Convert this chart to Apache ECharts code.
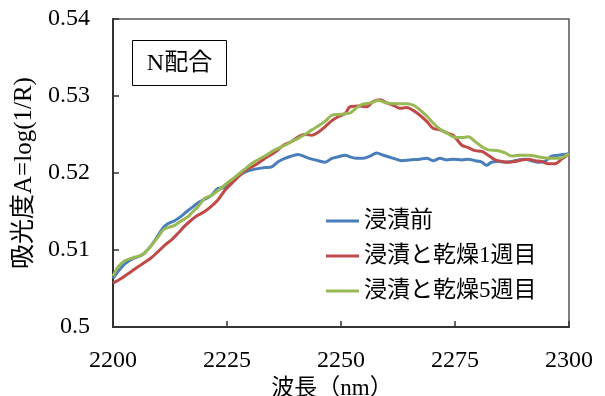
<!DOCTYPE html>
<html>
<head>
<meta charset="utf-8">
<script src="https://cdn.jsdelivr.net/npm/echarts@6/dist/echarts.min.js"></script>
<style>
  html, body { margin: 0; padding: 0; background: #fff; }
  #chart { width: 605px; height: 396px; }
</style>
</head>
<body>
<div id="chart"></div>
<script>
// NIR absorbance spectra, 2200–2300 nm, for three sample conditions
const seriesNames = ['浸漬前', '浸漬と乾燥1週目', '浸漬と乾燥5週目'];
const seriesColors = ['#4a7ebb', '#be4b48', '#98b954'];

const xTicks = { min: 2200, max: 2300, step: 25 };
const yTicks = { min: 0.5, max: 0.54, step: 0.01 };

// 浸漬前
const wlBefore = [2200, 2201.1, 2202.6, 2204.4, 2205.8, 2206.9, 2208.4, 2209.9, 2211, 2212,
  2213.5, 2215, 2216.4, 2217.5, 2218.6, 2220.1, 2221.6, 2223, 2224.6, 2226.8,
  2228.9, 2231.1, 2233.3, 2234.8, 2236.3, 2237.7, 2239.2, 2240.6, 2242.1, 2243.6,
  2245, 2246.5, 2248, 2249.4, 2250.9, 2252, 2253.4, 2254.9, 2256.4, 2257.8,
  2259.3, 2261.5, 2263.3, 2265.1, 2267.3, 2268.8, 2270.2, 2271.7, 2273.2, 2274.6,
  2276.5, 2277.9, 2279.4, 2280.9, 2281.9, 2283, 2284.5, 2286, 2287.4, 2288.9,
  2290.4, 2291.8, 2293.3, 2294.7, 2296.2, 2297.7, 2298.8, 2300];
const absBefore = [0.5063, 0.5072, 0.5082, 0.5089, 0.5092, 0.5096, 0.5106, 0.5119, 0.5129, 0.5134,
  0.5138, 0.5144, 0.5151, 0.5156, 0.5161, 0.5166, 0.5171, 0.5180, 0.5181, 0.5193,
  0.5201, 0.5205, 0.5207, 0.5208, 0.5215, 0.5219, 0.5222, 0.5224, 0.5221, 0.5218,
  0.5216, 0.5214, 0.5219, 0.5221, 0.5223, 0.5221, 0.5219, 0.5219, 0.5222, 0.5226,
  0.5223, 0.5219, 0.5216, 0.5217, 0.5218, 0.5219, 0.5216, 0.5219, 0.5217, 0.5218,
  0.5217, 0.5218, 0.5216, 0.5214, 0.5210, 0.5214, 0.5215, 0.5214, 0.5215, 0.5217,
  0.5218, 0.5216, 0.5214, 0.5215, 0.5222, 0.5223, 0.5224, 0.5225];

// 浸漬と乾燥1週目
const wlWeek1 = [2200, 2201.8, 2204, 2206.2, 2208.4, 2209.9, 2211.3, 2212.8, 2214.3, 2215.7,
  2217.2, 2218.6, 2220.1, 2221.6, 2223, 2224.6, 2226.8, 2228.9, 2231.1, 2233.3,
  2235.5, 2237.4, 2239.2, 2240.6, 2242.1, 2243.6, 2245, 2246.5, 2248, 2249.4,
  2250.9, 2252, 2254.2, 2255.6, 2257.1, 2258.6, 2260, 2261.5, 2262.9, 2264.4,
  2265.9, 2267.3, 2268.8, 2270.2, 2271.7, 2273.2, 2274.6, 2276.5, 2277.9, 2279.4,
  2280.9, 2282.3, 2283.8, 2285.2, 2286.7, 2288.2, 2289.6, 2291.1, 2292.5, 2294,
  2295.5, 2296.9, 2298.4, 2300];
const absWeek1 = [0.5057, 0.5063, 0.5072, 0.5081, 0.5090, 0.5098, 0.5106, 0.5113, 0.5122, 0.5131,
  0.5139, 0.5145, 0.5150, 0.5157, 0.5165, 0.5178, 0.5191, 0.5203, 0.5210, 0.5219,
  0.5227, 0.5236, 0.5241, 0.5247, 0.5250, 0.5249, 0.5253, 0.5260, 0.5268, 0.5273,
  0.5277, 0.5286, 0.5287, 0.5286, 0.5293, 0.5295, 0.5291, 0.5288, 0.5284, 0.5285,
  0.5281, 0.5275, 0.5267, 0.5258, 0.5256, 0.5252, 0.5249, 0.5236, 0.5233, 0.5229,
  0.5228, 0.5223, 0.5217, 0.5215, 0.5214, 0.5215, 0.5217, 0.5218, 0.5216, 0.5215,
  0.5212, 0.5212, 0.5218, 0.5225];

// 浸漬と乾燥5週目
const wlWeek5 = [2200, 2201.1, 2202.6, 2204.4, 2205.8, 2206.9, 2208.4, 2209.9, 2211, 2212,
  2213.5, 2215, 2216.4, 2217.5, 2218.6, 2220.1, 2221.6, 2223, 2224.6, 2226.8,
  2228.9, 2231.1, 2233.3, 2235.5, 2237.7, 2239.2, 2240.6, 2242.1, 2243.6, 2245,
  2246.5, 2248, 2249.4, 2250.9, 2252, 2254.2, 2256.4, 2258.2, 2260, 2262.2,
  2264.4, 2265.9, 2267.3, 2268.8, 2270.2, 2271.7, 2273.2, 2274.6, 2276.5, 2277.9,
  2279.4, 2280.9, 2282.3, 2284.5, 2286, 2287.4, 2288.9, 2291.1, 2292.5, 2294,
  2295.5, 2296.9, 2298.4, 2300];
const absWeek5 = [0.5066, 0.5078, 0.5086, 0.5090, 0.5092, 0.5096, 0.5106, 0.5117, 0.5126, 0.5129,
  0.5132, 0.5138, 0.5143, 0.5150, 0.5156, 0.5167, 0.5171, 0.5177, 0.5185, 0.5195,
  0.5205, 0.5215, 0.5222, 0.5230, 0.5236, 0.5241, 0.5245, 0.5250, 0.5256, 0.5261,
  0.5267, 0.5275, 0.5276, 0.5277, 0.5278, 0.5288, 0.5291, 0.5294, 0.5291, 0.5290,
  0.5290, 0.5288, 0.5282, 0.5274, 0.5265, 0.5257, 0.5252, 0.5247, 0.5246, 0.5247,
  0.5241, 0.5234, 0.5230, 0.5229, 0.5226, 0.5222, 0.5223, 0.5223, 0.5222, 0.5220,
  0.5219, 0.5219, 0.5220, 0.5225];

const FONT = "'Liberation Serif', 'Times New Roman', 'Noto Sans CJK JP', serif";
const pairs = (xs, ys) => xs.map((x, i) => [x, ys[i]]);
const allData = [pairs(wlBefore, absBefore), pairs(wlWeek1, absWeek1), pairs(wlWeek5, absWeek5)];

const chart = echarts.init(document.getElementById('chart'), null, { renderer: 'canvas' });

chart.setOption({
  animation: false,
  backgroundColor: '#fff',
  textStyle: { fontFamily: FONT },
  grid: {
    left: 113, right: 36, top: 19, bottom: 69,
    outerBoundsMode: 'none',
    containLabel: false,
    show: true, borderColor: '#555', borderWidth: 1.5
  },
  xAxis: {
    type: 'value',
    min: xTicks.min, max: xTicks.max, interval: xTicks.step,
    name: '波長（nm）',
    nameLocation: 'middle',
    nameGap: 43,
    nameTextStyle: { fontFamily: FONT, fontSize: 23, color: '#000', padding: [0, 18, 0, 0] },
    axisLine: { lineStyle: { color: '#333', width: 2 } },
    axisTick: { inside: true, length: 6, lineStyle: { color: '#333', width: 1.5 } },
    axisLabel: { margin: 22, fontFamily: FONT, fontSize: 24, color: '#000',
                 formatter: v => String(v) },
    splitLine: { show: false }
  },
  yAxis: {
    type: 'value',
    min: yTicks.min, max: yTicks.max, interval: yTicks.step,
    name: '吸光度A=log(1/R)',
    nameLocation: 'middle',
    nameRotate: 90,
    nameGap: 72,
    nameTextStyle: { fontFamily: FONT, fontSize: 25, color: '#000' },
    axisLine: { show: true, lineStyle: { color: '#333', width: 2 } },
    axisTick: { show: true, inside: true, length: 6, lineStyle: { color: '#333', width: 1.5 } },
    axisLabel: { margin: 23, fontFamily: FONT, fontSize: 24, color: '#000',
                 formatter: v => String(Math.round(v * 100) / 100) },
    splitLine: { show: false }
  },
  legend: {
    orient: 'vertical',
    left: 326, top: 209,
    padding: 0,
    icon: 'rect',
    itemWidth: 33, itemHeight: 3, itemGap: 11,
    textStyle: { fontFamily: FONT, fontSize: 23, color: '#000', lineHeight: 24 },
    data: seriesNames
  },
  graphic: [
    {
      type: 'group', left: 132, top: 40,
      children: [
        { type: 'rect', shape: { x: 0, y: 0, width: 94, height: 45 },
          style: { fill: '#fff', stroke: '#000', lineWidth: 1 } },
        { type: 'text', x: 47, y: 23,
          style: { text: 'N配合', font: '24px ' + FONT, fill: '#000',
                   align: 'center', verticalAlign: 'middle' } }
      ]
    }
  ],
  series: seriesNames.map((name, i) => ({
    name,
    type: 'line',
    data: allData[i],
    smooth: 0.3,
    symbol: 'none',
    lineStyle: { color: seriesColors[i], width: 3 },
    itemStyle: { color: seriesColors[i] },
    z: 2 + i
  }))
});
</script>
</body>
</html>
